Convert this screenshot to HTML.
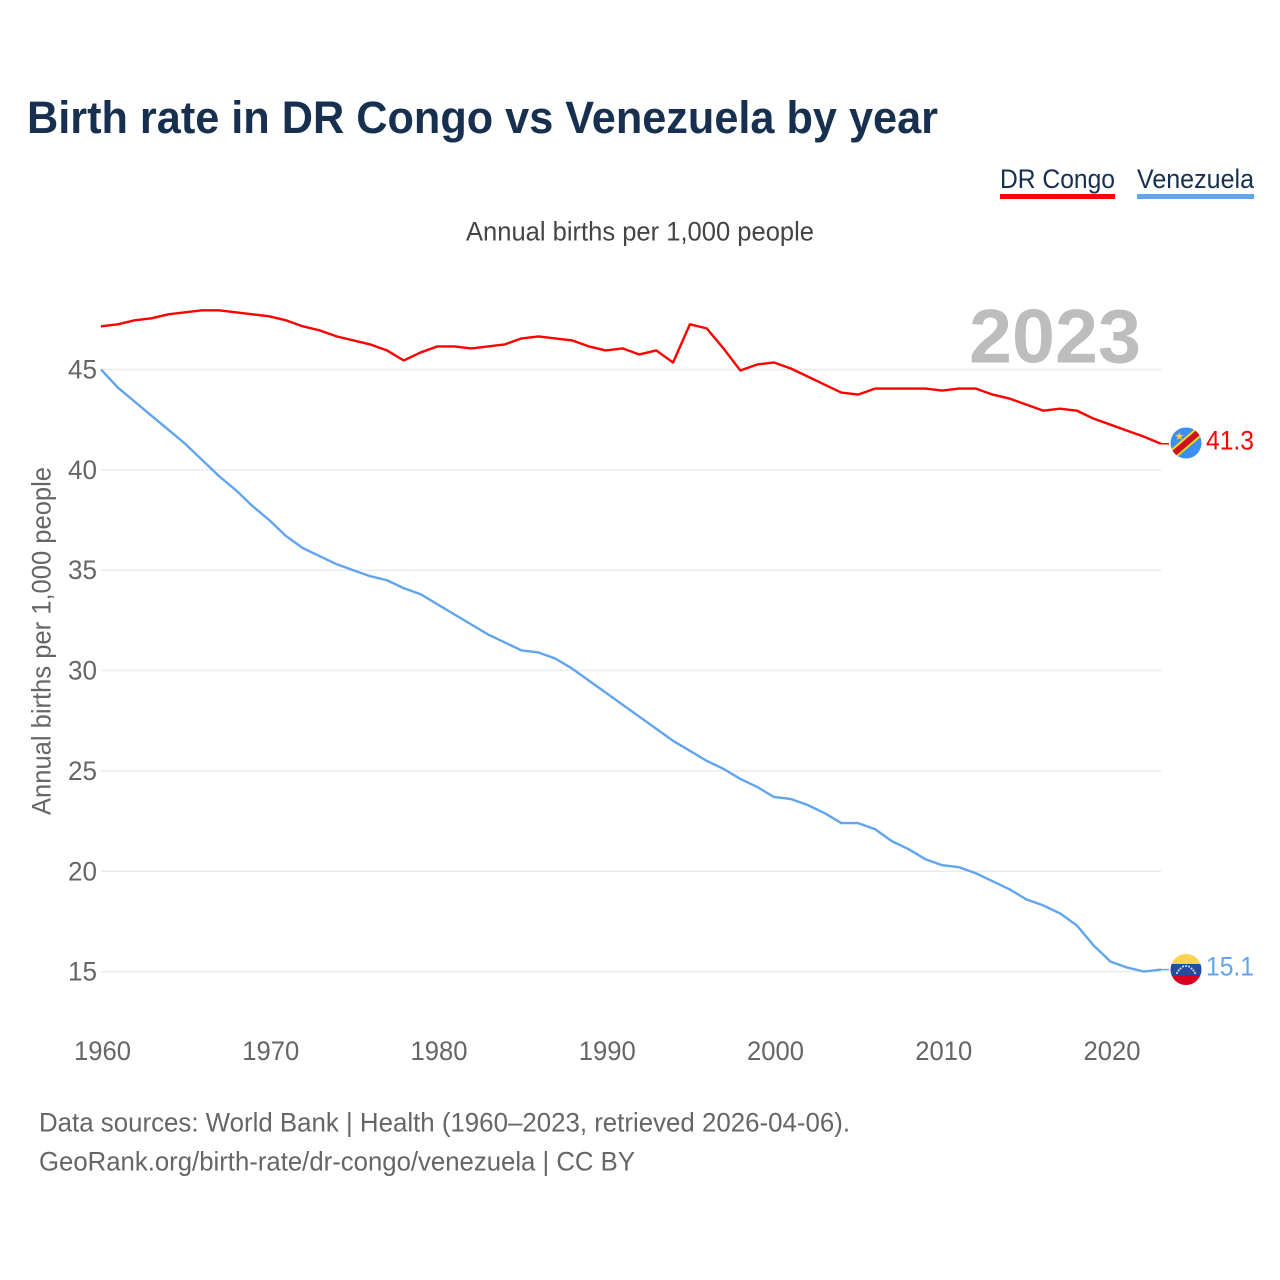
<!DOCTYPE html>
<html lang="en">
<head>
<meta charset="utf-8">
<title>Birth rate in DR Congo vs Venezuela by year</title>
<style>
html,body{margin:0;padding:0;background:#fff;}
svg{display:block;font-family:"Liberation Sans",sans-serif;}
</style>
</head>
<body>
<svg id="chart" xmlns="http://www.w3.org/2000/svg" width="1280" height="1280" viewBox="0 0 1280 1280">
  <rect x="0" y="0" width="1280" height="1280" fill="#fff"/>
  <text x="27" y="133" font-size="45" font-weight="700" fill="#17304f" textLength="911" lengthAdjust="spacingAndGlyphs">Birth rate in DR Congo vs Venezuela by year</text>

  <g>
    <text x="1000" y="188" font-size="26.500" fill="#17304f" textLength="115" lengthAdjust="spacingAndGlyphs">DR Congo</text>
    <rect x="1000" y="194" width="115" height="5" fill="#ff0000"/>
  </g>
  <g>
    <text x="1137" y="188" font-size="26.500" fill="#17304f" textLength="117" lengthAdjust="spacingAndGlyphs">Venezuela</text>
    <rect x="1137" y="194" width="117" height="5" fill="#60a5ee"/>
  </g>

  <text x="466" y="240.500" font-size="26.500" fill="#444" textLength="348" lengthAdjust="spacingAndGlyphs">Annual births per 1,000 people</text>

  <text transform="translate(50.500,815) rotate(-90)" x="0" y="0" font-size="26.500" fill="#666" textLength="348" lengthAdjust="spacingAndGlyphs">Annual births per 1,000 people</text>

  <g id="grid"></g>
  <g id="yticks"></g>
  <g id="xticks"></g>

  <text x="969" y="362.500" font-size="76" font-weight="700" fill="#bdbdbd" textLength="172" lengthAdjust="spacingAndGlyphs">2023</text>

  <g id="series"></g>

  <defs>
    <clipPath id="clip-cd"><circle cx="1186" cy="443" r="15.500"/></clipPath>
    <clipPath id="clip-ve"><circle cx="1186" cy="969.500" r="15.500"/></clipPath>
  </defs>

  <g clip-path="url(#clip-cd)">
    <rect x="1170" y="427" width="32" height="32" fill="#3a8ff0"/>
    <line x1="1168" y1="458.400" x2="1204" y2="427.600" stroke="#f7d618" stroke-width="10"/>
    <line x1="1168" y1="458.400" x2="1204" y2="427.600" stroke="#ce1021" stroke-width="6"/>
    <polygon points="1179.300,432 1180.400,434.900 1183.500,435 1181.100,437 1181.900,440 1179.300,438.300 1176.700,440 1177.500,437 1175.100,435 1178.200,434.900" fill="#f7d618"/>
  </g>

  <g clip-path="url(#clip-ve)">
    <rect x="1170" y="953" width="32" height="11" fill="#ffd34f"/>
    <rect x="1170" y="964" width="32" height="11" fill="#1f4fa3"/>
    <rect x="1170" y="975" width="32" height="11" fill="#d9001f"/>
    <g fill="#e4ecf7">
      <circle cx="1177" cy="973" r="1"/><circle cx="1178.500" cy="970.500" r="1"/><circle cx="1180.500" cy="968.500" r="1"/><circle cx="1183" cy="966.500" r="1"/><circle cx="1186" cy="966" r="1"/><circle cx="1189" cy="966.500" r="1"/><circle cx="1191.500" cy="968.500" r="1"/><circle cx="1193.500" cy="970.500" r="1"/><circle cx="1195" cy="973" r="1"/>
    </g>
  </g>

  <text id="end-cd" x="1206" y="449.500" font-size="26.500" fill="#ff0000" textLength="48" lengthAdjust="spacingAndGlyphs"></text>
  <text id="end-ve" x="1206" y="975.500" font-size="26.500" fill="#60a5ee" textLength="48" lengthAdjust="spacingAndGlyphs"></text>

  <text x="39" y="1131.500" font-size="26.500" fill="#666" textLength="811" lengthAdjust="spacingAndGlyphs">Data sources: World Bank | Health (1960–2023, retrieved 2026-04-06).</text>
  <text x="39" y="1170.500" font-size="26.500" fill="#666" textLength="596" lengthAdjust="spacingAndGlyphs">GeoRank.org/birth-rate/dr-congo/venezuela | CC BY</text>
</svg>
<script>
const startYear = 1960;
const yTickValues = [15, 20, 25, 30, 35, 40, 45];
const xTickYears = [1960, 1970, 1980, 1990, 2000, 2010, 2020];
const drCongoValues = [
  47.15,47.25,47.45,47.55,47.75,47.85,47.95,47.95,47.85,47.75,
  47.65,47.45,47.15,46.95,46.65,46.45,46.25,45.95,45.45,45.85,
  46.15,46.15,46.05,46.15,46.25,46.55,46.65,46.55,46.45,46.15,
  45.95,46.05,45.75,45.95,45.35,47.25,47.05,46.05,44.95,45.25,
  45.35,45.05,44.65,44.25,43.85,43.75,44.05,44.05,44.05,44.05,
  43.95,44.05,44.05,43.75,43.55,43.25,42.95,43.05,42.95,42.55,
  42.25,41.95,41.65,41.3
];
const venezuelaValues = [
  45.0,44.1,43.4,42.7,42.0,41.3,40.5,39.7,39.0,38.2,
  37.5,36.7,36.1,35.7,35.3,35.0,34.7,34.5,34.1,33.8,
  33.3,32.8,32.3,31.8,31.4,31.0,30.9,30.6,30.1,29.5,
  28.9,28.3,27.7,27.1,26.5,26.0,25.5,25.1,24.6,24.2,
  23.7,23.6,23.3,22.9,22.4,22.4,22.1,21.5,21.1,20.6,
  20.3,20.2,19.9,19.5,19.1,18.6,18.3,17.9,17.3,16.3,
  15.5,15.2,15.0,15.1
];

const NS = 'http://www.w3.org/2000/svg';
function xScale(year) { return 101 + (year - 1960) * 16.825; }
function yScale(value) { return 369.5 + (45 - value) * 20.07; }

const gridGroup = document.getElementById('grid');
const yTickGroup = document.getElementById('yticks');
const xTickGroup = document.getElementById('xticks');
const seriesGroup = document.getElementById('series');

yTickValues.forEach(function (v) {
  const line = document.createElementNS(NS, 'line');
  
  
  line.setAttribute('x1', 101);
  line.setAttribute('x2', 1161.5);
  line.setAttribute('y1', yScale(v));
  line.setAttribute('y2', yScale(v));
  line.setAttribute('stroke', '#ebebeb');
  line.setAttribute('stroke-width', 1.5);
  gridGroup.appendChild(line);

  const label = document.createElementNS(NS, 'text');
  
  
  label.setAttribute('x', 97);
  label.setAttribute('y', yScale(v) + 9);
  label.setAttribute('text-anchor', 'end');
  label.setAttribute('font-size', 27);
  label.setAttribute('fill', '#666');
  label.setAttribute('textLength', 29);
  label.setAttribute('lengthAdjust', 'spacingAndGlyphs');
  label.textContent = v;
  yTickGroup.appendChild(label);
});

xTickYears.forEach(function (yr) {
  const label = document.createElementNS(NS, 'text');
  
  
  label.setAttribute('x', xScale(yr) + 1.5);
  label.setAttribute('y', 1060);
  label.setAttribute('text-anchor', 'middle');
  label.setAttribute('font-size', 27);
  label.setAttribute('fill', '#666');
  label.setAttribute('textLength', 57);
  label.setAttribute('lengthAdjust', 'spacingAndGlyphs');
  label.textContent = yr;
  xTickGroup.appendChild(label);
});

function drawSeries(values, color, name) {
  const pts = values.map(function (v, i) {
    return xScale(startYear + i).toFixed(2) + ',' + yScale(v).toFixed(2);
  }).join(' ');
  const line = document.createElementNS(NS, 'polyline');
  
  
  line.setAttribute('points', pts);
  line.setAttribute('fill', 'none');
  line.setAttribute('stroke', color);
  line.setAttribute('stroke-width', 2.4);
  line.setAttribute('stroke-linejoin', 'round');
  seriesGroup.appendChild(line);

  const last = values[values.length - 1];
  const leader = document.createElementNS(NS, 'line');
  
  
  leader.setAttribute('x1', xScale(startYear + values.length - 1));
  leader.setAttribute('x2', 1169);
  leader.setAttribute('y1', yScale(last));
  leader.setAttribute('y2', yScale(last));
  leader.setAttribute('stroke', color);
  leader.setAttribute('stroke-width', 1.5);
  seriesGroup.appendChild(leader);
}

drawSeries(drCongoValues, '#ff0000', 'dr-congo');
drawSeries(venezuelaValues, '#60a5ee', 'venezuela');

document.getElementById('end-cd').textContent = drCongoValues[drCongoValues.length - 1].toFixed(1);
document.getElementById('end-ve').textContent = venezuelaValues[venezuelaValues.length - 1].toFixed(1);
</script>
</body>
</html>
